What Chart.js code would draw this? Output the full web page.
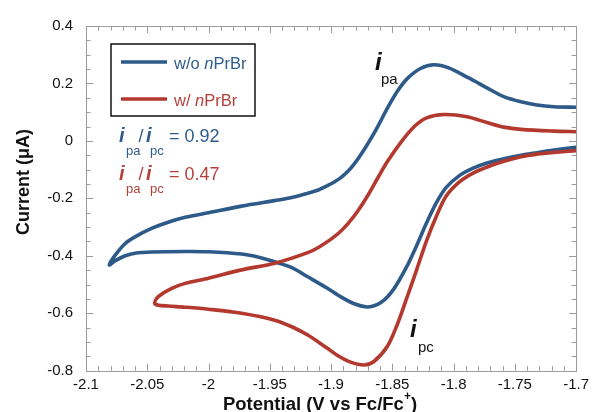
<!DOCTYPE html>
<html><head><meta charset="utf-8">
<script src="https://cdn.jsdelivr.net/npm/chart.js@4.4.0/dist/chart.umd.min.js"></script>
<style>html,body{margin:0;padding:0;background:#fff;}canvas{display:block;}</style>
</head><body>
<canvas id="c" width="594" height="412"></canvas>
<script>
// ---- data ----
const xTickValues = [-2.1, -2.05, -2, -1.95, -1.9, -1.85, -1.8, -1.75, -1.7];
const xTickLabels = ["-2.1", "-2.05", "-2", "-1.95", "-1.9", "-1.85", "-1.8", "-1.75", "-1.7"];
const yTickValues = [-0.8, -0.6, -0.4, -0.2, 0, 0.2, 0.4];
const yTickLabels = ["-0.8", "-0.6", "-0.4", "-0.2", "0", "0.2", "0.4"];
const seriesNames = ["w/o nPrBr", "w/ nPrBr"];
const ratioLabels = ["0.92", "0.47"];

// without nPrBr: cathodic scan (right -> left), then return scan (left -> right)
const blueCathodicV = [-1.700, -1.718, -1.732, -1.745, -1.759, -1.772, -1.784, -1.795, -1.806, -1.814, -1.822, -1.830, -1.838, -1.849, -1.859, -1.870, -1.881, -1.892, -1.903, -1.919, -1.932, -1.946, -1.959, -1.973, -2.000, -2.019, -2.046, -2.060, -2.068, -2.076, -2.081];
const blueCathodicI = [-0.022, -0.032, -0.041, -0.050, -0.062, -0.076, -0.095, -0.120, -0.162, -0.215, -0.285, -0.363, -0.436, -0.517, -0.562, -0.578, -0.567, -0.543, -0.513, -0.473, -0.441, -0.421, -0.405, -0.394, -0.386, -0.385, -0.387, -0.391, -0.400, -0.417, -0.432];
const blueAnodicV = [-2.081, -2.076, -2.068, -2.060, -2.046, -2.033, -2.019, -2.000, -1.973, -1.946, -1.935, -1.919, -1.910, -1.903, -1.897, -1.892, -1.886, -1.881, -1.876, -1.870, -1.862, -1.854, -1.846, -1.838, -1.827, -1.816, -1.804, -1.788, -1.772, -1.759, -1.745, -1.732, -1.718, -1.700];
const blueAnodicI = [-0.432, -0.397, -0.357, -0.334, -0.304, -0.283, -0.266, -0.250, -0.227, -0.208, -0.200, -0.182, -0.170, -0.156, -0.142, -0.128, -0.105, -0.080, -0.050, -0.010, 0.049, 0.114, 0.172, 0.216, 0.252, 0.265, 0.254, 0.220, 0.183, 0.154, 0.136, 0.125, 0.119, 0.117];

// with nPrBr
const redCathodicV = [-1.700, -1.718, -1.732, -1.745, -1.759, -1.772, -1.784, -1.795, -1.806, -1.814, -1.822, -1.830, -1.838, -1.846, -1.854, -1.865, -1.873, -1.884, -1.895, -1.903, -1.919, -1.932, -1.946, -1.973, -2.000, -2.019, -2.033, -2.041, -2.044];
const redCathodicI = [-0.034, -0.040, -0.046, -0.055, -0.071, -0.090, -0.112, -0.142, -0.192, -0.262, -0.347, -0.447, -0.545, -0.640, -0.715, -0.768, -0.780, -0.770, -0.746, -0.722, -0.676, -0.647, -0.624, -0.600, -0.586, -0.579, -0.575, -0.572, -0.565];
const redAnodicV = [-2.044, -2.041, -2.030, -2.019, -2.000, -1.973, -1.946, -1.919, -1.910, -1.900, -1.893, -1.886, -1.878, -1.870, -1.862, -1.854, -1.843, -1.832, -1.822, -1.808, -1.789, -1.772, -1.759, -1.745, -1.718, -1.700];
const redAnodicI = [-0.565, -0.542, -0.513, -0.496, -0.478, -0.449, -0.426, -0.389, -0.370, -0.342, -0.318, -0.287, -0.243, -0.190, -0.130, -0.072, -0.005, 0.050, 0.080, 0.092, 0.084, 0.063, 0.048, 0.040, 0.034, 0.032];

// ---- build ----
const BLUE = '#2d5a88', RED = '#b3392f';
const BLUE_T = '#2f5c8c', RED_T = '#b5403a';
const FONT = '"Liberation Sans", Arial, Helvetica, sans-serif';

function pts(v1, i1, v2, i2) {
  const out = v1.map((v, k) => ({x: v, y: i1[k]}));
  v2.forEach((v, k) => { if (k > 0) out.push({x: v, y: i2[k]}); });
  return out;
}

function txt(ctx, s, x, y, font, color, align) {
  ctx.font = font; ctx.fillStyle = color; ctx.textAlign = align || 'left'; ctx.textBaseline = 'alphabetic';
  ctx.fillText(s, x, y);
}

const decor = {
  id: 'decor',
  beforeDatasetsDraw(chart) {
    const ctx = chart.ctx, a = chart.chartArea, xs = chart.scales.x, ys = chart.scales.y;
    ctx.save();
    ctx.strokeStyle = '#9b9b9b'; ctx.lineWidth = 1;
    ctx.strokeRect(Math.round(a.left) + 0.5, Math.round(a.top) + 0.5, Math.round(a.right - a.left), Math.round(a.bottom - a.top));
    ctx.beginPath();
    for (let k = 0; k <= 40; k++) {
      const v = xTickValues[0] + k * 0.01;
      const len = (k % 5 === 0) ? 7 : 4.5;
      const px = Math.round(xs.getPixelForValue(v)) + 0.5;
      ctx.moveTo(px, a.bottom); ctx.lineTo(px, a.bottom - len);
      ctx.moveTo(px, a.top); ctx.lineTo(px, a.top + len);
    }
    for (let k = 0; k <= 24; k++) {
      const v = yTickValues[0] + k * 0.05;
      const len = (k % 4 === 0) ? 7 : 4.5;
      const py = Math.round(ys.getPixelForValue(v)) + 0.5;
      ctx.moveTo(a.left, py); ctx.lineTo(a.left + len, py);
      ctx.moveTo(a.right, py); ctx.lineTo(a.right - len, py);
    }
    ctx.stroke();
    ctx.restore();
  },
  afterDraw(chart) {
    const ctx = chart.ctx;
    ctx.save();
    // y title
    ctx.save();
    ctx.translate(23, 182);
    ctx.rotate(-Math.PI / 2);
    txt(ctx, 'Current (\u03bcA)', 0, 6, 'bold 18px ' + FONT, '#111', 'center');
    ctx.restore();
    // x title with superscript
    const f1 = 'bold 18.5px ' + FONT, f2 = 'bold 12px ' + FONT;
    ctx.font = f1;
    const p1 = 'Potential (V vs Fc/Fc', p3 = ')';
    const w1 = ctx.measureText(p1).width, w3 = ctx.measureText(p3).width;
    ctx.font = f2; const w2 = ctx.measureText('+').width;
    let x0 = 320 - (w1 + w2 + w3) / 2;
    txt(ctx, p1, x0, 410, f1, '#111');
    txt(ctx, '+', x0 + w1, 400, f2, '#111');
    txt(ctx, p3, x0 + w1 + w2, 410, f1, '#111');

    // legend
    ctx.strokeStyle = '#111'; ctx.lineWidth = 1.5;
    ctx.strokeRect(111, 44, 144, 72);
    ctx.lineWidth = 3.5; ctx.lineCap = 'butt';
    ctx.strokeStyle = BLUE; ctx.beginPath(); ctx.moveTo(121, 62); ctx.lineTo(167, 62); ctx.stroke();
    ctx.strokeStyle = RED; ctx.beginPath(); ctx.moveTo(121, 99); ctx.lineTo(167, 99); ctx.stroke();
    const lf = '16.5px ' + FONT, lfi = 'italic 16.5px ' + FONT;
    const rows = [[seriesNames[0], 69, BLUE_T], [seriesNames[1], 106, RED_T]];
    rows.forEach(([name, y, col]) => {
      const sp = name.indexOf(' ');
      const pre = name.slice(0, sp + 1), n = name.slice(sp + 1, sp + 2), rest = name.slice(sp + 2);
      let x = 174;
      ctx.font = lf; txt(ctx, pre, x, y, lf, col); x += ctx.measureText(pre).width;
      ctx.font = lfi; txt(ctx, n, x, y, lfi, col); x += ctx.measureText(n).width;
      txt(ctx, rest, x, y, lf, col);
    });

    // ratios
    const bi = 'bold italic 20px ' + FONT, sb = '13px ' + FONT, nf = '18px ' + FONT;
    [[142, 155, BLUE_T, ratioLabels[0]], [180, 193, RED_T, ratioLabels[1]]].forEach(([by, sy, col, val]) => {
      txt(ctx, 'i', 119, by, bi, col);
      txt(ctx, 'pa', 126, sy, sb, col);
      txt(ctx, '/', 138.5, by, nf, col);
      txt(ctx, 'i', 146, by, bi, col);
      txt(ctx, 'pc', 150, sy, sb, col);
      txt(ctx, '= ' + val, 169, by, nf, col);
    });

    // peak labels
    const pf = 'bold italic 24px ' + FONT, ps = '15px ' + FONT;
    txt(ctx, 'i', 375, 70, pf, '#111');
    txt(ctx, 'pa', 381, 84, ps, '#111');
    txt(ctx, 'i', 410, 337, pf, '#111');
    txt(ctx, 'pc', 418, 352, ps, '#111');
    ctx.restore();
  }
};

new Chart(document.getElementById('c'), {
  type: 'scatter',
  data: {
    datasets: [
      {label: seriesNames[0], data: pts(blueCathodicV, blueCathodicI, blueAnodicV, blueAnodicI), showLine: true, borderColor: BLUE, backgroundColor: BLUE, borderWidth: 3.6, pointRadius: 0, tension: 0.3, order: 1, fill: false},
      {label: seriesNames[1], data: pts(redCathodicV, redCathodicI, redAnodicV, redAnodicI), showLine: true, borderColor: RED, backgroundColor: RED, borderWidth: 3.6, pointRadius: 0, tension: 0.3, order: 0, fill: false}
    ]
  },
  options: {
    responsive: false, animation: false, devicePixelRatio: 1,
    layout: {padding: {left: 0, top: 26, right: 13.5, bottom: 0}},
    plugins: {legend: {display: false}, tooltip: {enabled: false}},
    scales: {
      x: {
        type: 'linear', min: -2.1, max: -1.7,
        afterBuildTicks: s => { s.ticks = xTickValues.map(v => ({value: v})); },
        afterFit: s => { s.height = 41.3; },
        grid: {display: false, drawTicks: false},
        border: {display: false},
        ticks: {padding: 5, color: '#111', font: {family: FONT, size: 15}, maxRotation: 0, autoSkip: false,
          callback: (v, i) => xTickLabels[i]}
      },
      y: {
        type: 'linear', min: -0.8, max: 0.4,
        afterBuildTicks: s => { s.ticks = yTickValues.map(v => ({value: v})); },
        afterFit: s => { s.width = 86; },
        grid: {display: false, drawTicks: false},
        border: {display: false},
        ticks: {padding: 13, color: '#111', font: {family: FONT, size: 15}, autoSkip: false,
          callback: (v, i) => yTickLabels[i]}
      }
    }
  },
  plugins: [decor]
});
</script>
</body></html>
